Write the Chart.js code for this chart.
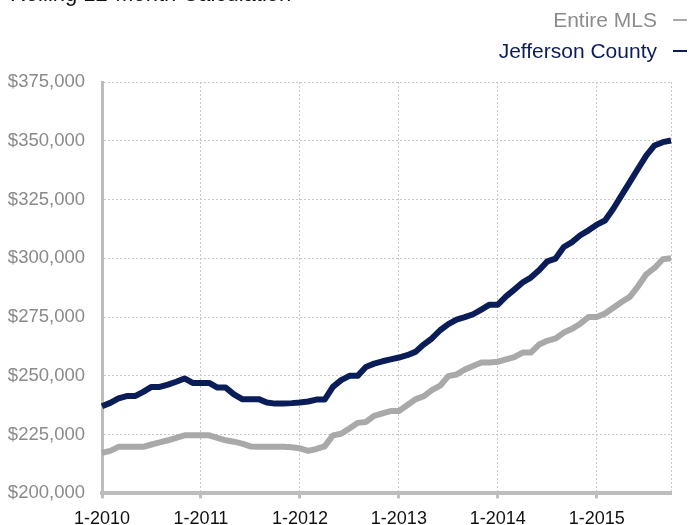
<!DOCTYPE html>
<html>
<head>
<meta charset="utf-8">
<script src="https://cdn.jsdelivr.net/npm/chart.js@4/dist/chart.umd.min.js"></script>
<style>
  html, body { margin: 0; padding: 0; background: #fff; overflow: hidden; }
  #wrap { position: relative; width: 689px; height: 525px; overflow: hidden; font-family: "Liberation Sans", Arial, sans-serif; }
  #title { position: absolute; left: 10px; top: -17px; font-size: 22px; line-height: 22px; color: #111; white-space: nowrap; }
  #legend { position: absolute; right: 2px; top: 4px; text-align: right; }
  .item { font-size: 21px; line-height: 31px; white-space: nowrap; }
  .mark { display: inline-block; width: 14px; height: 2px; margin-left: 16px; vertical-align: middle; position: relative; top: -1px; }
  canvas { position: absolute; left: 0; top: 0; }
</style>
</head>
<body>
<div id="wrap">
  <canvas id="chart" width="689" height="540"></canvas>
  <div id="title">Rolling 12-Month Calculation</div>
  <div id="legend"></div>
</div>
<script>
// months Jan 2010 .. Oct 2015, labelled "m-yyyy"
const months = [];
for (let y = 2010; y <= 2015; y++) {
  for (let m = 1; m <= 12; m++) {
    if (y === 2015 && m > 10) break;
    months.push(m + "-" + y);
  }
}

const seriesNames = ["Entire MLS", "Jefferson County"];
const seriesColors = ["#a9a9a9", "#0b1d58"];
const labelColors = ["#8c8c8c", "#0b1d58"];

const entireMls = [
  217200, 218100, 219800, 219800, 219800, 219800, 220800, 221700, 222600, 223600, 224700, 224700,
  224700, 224700, 223600, 222600, 222000, 221200, 220000, 219800, 219800, 219800, 219800, 219600,
  219200, 218100, 218900, 220000, 224700, 225400, 227600, 230000, 230400, 233000, 234000, 235000,
  235000, 237500, 240000, 241300, 243900, 245800, 249900, 250600, 252700, 254200, 255700, 255700,
  256000, 257000, 258000, 259900, 259900, 263300, 264900, 265900, 268400, 270000, 272200, 275000,
  275000, 276500, 279000, 281400, 283600, 288100, 293200, 295900, 299600, 300000
];

const jeffersonCounty = [
  237100, 238500, 240400, 241400, 241400, 243200, 245300, 245300, 246300, 247500, 248900, 247000,
  247000, 247000, 245000, 245000, 242100, 240100, 240100, 240100, 238700, 238200, 238200, 238400,
  238700, 239100, 239900, 239900, 245300, 248200, 250000, 250000, 253800, 255200, 256200, 257000,
  257800, 258800, 260200, 263300, 265900, 269400, 272000, 273900, 275000, 276200, 278200, 280300,
  280300, 283800, 286700, 289700, 291800, 294900, 298700, 299900, 304800, 306900, 309800, 311900,
  314300, 316100, 321100, 326800, 332400, 338100, 343700, 348000, 349400, 350100
];

const yMin = 200000, yMax = 375000, yStep = 25000;

// legend (text then a short line, right aligned)
const legend = document.getElementById("legend");
seriesNames.forEach((name, i) => {
  const div = document.createElement("div");
  div.className = "item";
  div.style.color = labelColors[i];
  div.textContent = name;
  const mark = document.createElement("span");
  mark.className = "mark";
  mark.style.background = seriesColors[i];
  div.appendChild(mark);
  legend.appendChild(div);
});

const isYearStart = (i) => i % 12 === 0;
const lastIdx = months.length - 1;

const ctx = document.getElementById("chart").getContext("2d");
new Chart(ctx, {
  type: "line",
  data: {
    labels: months,
    datasets: [
      {
        label: seriesNames[0],
        data: entireMls,
        borderColor: seriesColors[0],
        borderWidth: 6,
        pointRadius: 0,
        tension: 0,
        borderJoinStyle: "round",
        borderCapStyle: "butt"
      },
      {
        label: seriesNames[1],
        data: jeffersonCounty,
        borderColor: seriesColors[1],
        borderWidth: 6,
        pointRadius: 0,
        tension: 0,
        borderJoinStyle: "round",
        borderCapStyle: "butt"
      }
    ]
  },
  options: {
    responsive: false,
    animation: false,
    layout: { padding: { left: 0, right: 18, top: 82, bottom: 0 } },
    plugins: {
      legend: { display: false },
      tooltip: { enabled: false }
    },
    scales: {
      x: {
        offset: false,
        border: { color: "#bdbdbd", width: 4, dash: [2, 2] },
        grid: {
          color: (c) => (c.index > 0 && (isYearStart(c.index) || c.index === lastIdx)) ? "#c8c8c8" : "rgba(0,0,0,0)",
          tickColor: (c) => isYearStart(c.index) ? "#bdbdbd" : "rgba(0,0,0,0)",
          tickLength: 5,
          tickWidth: 3,
          lineWidth: 1
        },
        ticks: {
          autoSkip: false,
          maxRotation: 0,
          padding: 10,
          color: "#111",
          font: { family: "Liberation Sans", size: 18 },
          callback: (v, i) => isYearStart(i) ? months[i] : ""
        }
      },
      y: {
        min: yMin,
        max: yMax,
        afterFit: (scale) => { scale.width = 102; },
        border: { color: "#bdbdbd", width: 3, dash: [2, 2] },
        grid: {
          drawTicks: false,
          color: (c) => (c.tick && c.tick.value === yMin) ? "rgba(0,0,0,0)" : "#c8c8c8",
          lineWidth: 1
        },
        ticks: {
          stepSize: yStep,
          padding: 17,
          color: "#8a8a8a",
          font: { family: "Liberation Sans", size: 18.5 },
          callback: (v) => "$" + v.toLocaleString("en-US")
        }
      }
    }
  }
});
</script>
</body>
</html>
